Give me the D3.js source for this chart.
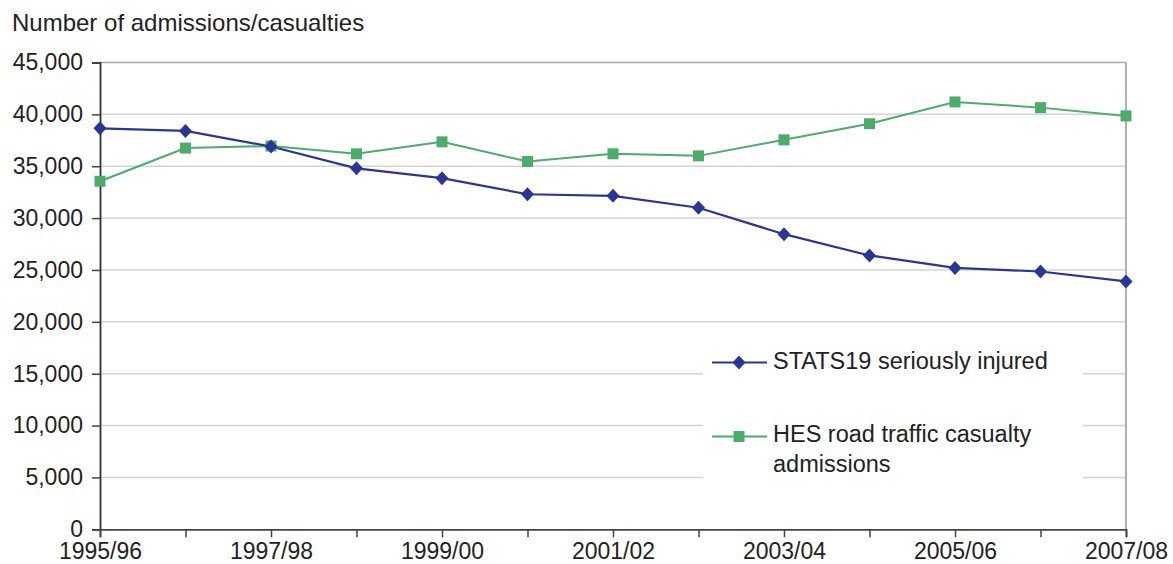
<!DOCTYPE html>
<html>
<head>
<meta charset="utf-8">
<script src="https://cdn.jsdelivr.net/npm/d3@7"></script>
<style>
  html, body { margin: 0; padding: 0; background: #fff; }
  svg { display: block; font-family: "Liberation Sans", Arial, Helvetica, sans-serif; }
</style>
</head>
<body>
<svg id="chart" width="1173" height="564"></svg>
<script>
const categories = ["1995/96","1996/97","1997/98","1998/99","1999/00","2000/01","2001/02","2002/03","2003/04","2004/05","2005/06","2006/07","2007/08"];
const statsValues = [38650, 38400, 36900, 34800, 33850, 32300, 32150, 31000, 28450, 26400, 25200, 24850, 23900];
const hesValues = [33550, 36750, 36950, 36200, 37350, 35450, 36200, 36000, 37550, 39100, 41200, 40650, 39850];
const yTicks = [0, 5000, 10000, 15000, 20000, 25000, 30000, 35000, 40000, 45000];
const xLabelled = ["1995/96","1997/98","1999/00","2001/02","2003/04","2005/06","2007/08"];
const seriesNames = ["STATS19 seriously injured", "HES road traffic casualty admissions"];
const yTitle = "Number of admissions/casualties";

const svg = d3.select("#chart");
const mLeft = 100, mRight = 1126, mTop = 62.5, mBottom = 529.3;
const blue = "#2b3594", green = "#4dab6c";

const x = d3.scalePoint().domain(categories).range([mLeft, mRight]);
const y = d3.scaleLinear().domain([0, 45000]).range([mBottom, mTop]);

// gridlines
svg.append("g").selectAll("line").data(yTicks.filter(d => d > 0)).join("line")
  .attr("x1", mLeft).attr("x2", mRight)
  .attr("y1", d => y(d)).attr("y2", d => y(d))
  .attr("stroke", d => d === 45000 ? "#a8a8a8" : "#d4d4d4").attr("stroke-width", 1.5);

// right border
svg.append("line").attr("x1", mRight).attr("x2", mRight).attr("y1", mTop).attr("y2", mBottom)
  .attr("stroke", "#b0b0b0").attr("stroke-width", 2);

// Y axis
const yAxis = d3.axisLeft(y).tickValues(yTicks).tickSize(8).tickPadding(9)
  .tickFormat(d3.format(","));
const gy = svg.append("g").attr("transform", `translate(${mLeft},0)`).call(yAxis);
gy.select(".domain").attr("stroke", "#333").attr("stroke-width", 1.8);
gy.selectAll(".tick line").attr("stroke", "#444").attr("stroke-width", 1.5);
gy.selectAll(".tick text").attr("font-size", 23).attr("fill", "#222")
  .attr("font-family", "Liberation Sans, Arial, sans-serif");

// X axis
const xAxis = d3.axisBottom(x).tickSize(8).tickPadding(5)
  .tickFormat(d => xLabelled.includes(d) ? d : "");
const gx = svg.append("g").attr("transform", `translate(0,${mBottom})`).call(xAxis);
gx.select(".domain").attr("stroke", "#444").attr("stroke-width", 1.8);
gx.selectAll(".tick line").attr("stroke", "#444").attr("stroke-width", 1.5);
gx.selectAll(".tick text").attr("font-size", 23).attr("fill", "#222")
  .attr("font-family", "Liberation Sans, Arial, sans-serif");

// Y title
svg.append("text").attr("x", 12).attr("y", 31).attr("font-size", 24).attr("fill", "#222")
  .text(yTitle);

// Lines
const line = d3.line().x((d, i) => x(categories[i])).y(d => y(d));
svg.append("path").datum(hesValues).attr("d", line).attr("fill", "none")
  .attr("stroke", green).attr("stroke-width", 2);
svg.append("path").datum(statsValues).attr("d", line).attr("fill", "none")
  .attr("stroke", blue).attr("stroke-width", 2.2);

const diamond = "M0,-7L6.5,0L0,7L-6.5,0Z";
const square = "M-5.5,-5.5H5.5V5.5H-5.5Z";

svg.append("g").selectAll("path").data(hesValues).join("path")
  .attr("d", square).attr("fill", green)
  .attr("transform", (d, i) => `translate(${x(categories[i])},${y(d)})`);
svg.append("g").selectAll("path").data(statsValues).join("path")
  .attr("d", diamond).attr("fill", blue)
  .attr("transform", (d, i) => `translate(${x(categories[i])},${y(d)})`);

// Legend
const lg = svg.append("g");
lg.append("rect").attr("x", 703).attr("y", 332).attr("width", 380).attr("height", 152).attr("fill", "#fff");
lg.append("line").attr("x1", 712).attr("x2", 767).attr("y1", 362.5).attr("y2", 362.5)
  .attr("stroke", blue).attr("stroke-width", 2.2);
lg.append("path").attr("d", diamond).attr("fill", blue).attr("transform", "translate(739,362.5)");
lg.append("text").attr("x", 773).attr("y", 368.5).attr("font-size", 23.5).attr("fill", "#222").text(seriesNames[0]);

lg.append("line").attr("x1", 712).attr("x2", 767).attr("y1", 436.5).attr("y2", 436.5)
  .attr("stroke", green).attr("stroke-width", 2);
lg.append("path").attr("d", square).attr("fill", green).attr("transform", "translate(739,436.5)");
const t2 = lg.append("text").attr("font-size", 23.5).attr("fill", "#222");
t2.append("tspan").attr("x", 773).attr("y", 442).text("HES road traffic casualty");
t2.append("tspan").attr("x", 773).attr("y", 472).text("admissions");
</script>
</body>
</html>
